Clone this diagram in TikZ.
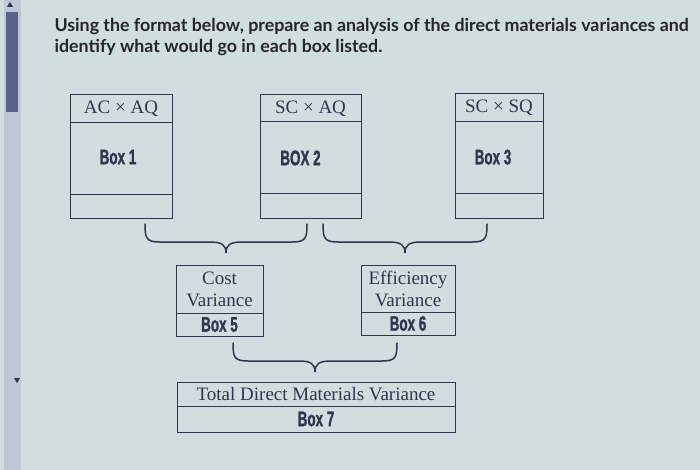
\documentclass[tikz,border=0pt]{standalone}
\usepackage{fontspec}
\usepackage{graphicx}
\setmainfont{Liberation Serif}
\newfontfamily\titlefont{Lato}
\newfontfamily\tagfont{Liberation Sans Bold}[FakeBold=1.6]
\usetikzlibrary{positioning}

\definecolor{screen}{RGB}{208,222,224}
\definecolor{ink}{RGB}{45,55,78}
\definecolor{thumb}{RGB}{88,98,138}
\definecolor{track}{RGB}{188,200,216}

% condensed heavy box label
\newcommand{\boxtag}[1]{\scalebox{0.64}[1]{\tagfont\fontsize{21}{21}\selectfont #1}}

% curly brace: start point, straight length
\newcommand{\curly}[2]{%
  \draw[curlyline] #1 .. controls +(0,14) and +(-14,0) .. ++(15,18) -- ++(#2,0)
    .. controls +(12,0) and +(0,-8) .. ++(16,11)
    .. controls +(0,-8) and +(-12,0) .. ++(16,-11) -- ++(#2,0)
    .. controls +(14,0) and +(0,14) .. ++(15,-18);}

\tikzset{
  cell/.style={draw=ink, line width=1pt, inner sep=0pt, outer sep=0pt, text=ink,
    font=\fontsize{19}{22}\selectfont, align=center},
  curlyline/.style={draw=ink, line width=1.5pt, line cap=round}
}

\begin{document}
\begin{tikzpicture}[x=1pt,y=-1pt]
  \fill[screen] (0,0) rectangle (700,470);
  \useasboundingbox (0,0) rectangle (700,470);

  % scroll bar
  \fill[track] (4,0) rectangle (21,470);
  \fill[thumb] (6,12) rectangle (18,112);
  \fill[ink] (7,7) -- (13,7) -- (10,2) -- cycle;
  \fill[ink] (14,378) -- (20,378) -- (17,383) -- cycle;

  \node[anchor=north west, align=left, text=black!85,
    font=\titlefont\bfseries\fontsize{17.8}{20.5}\selectfont] (title) at (51,15)
    {Using the format below, prepare an analysis of the direct materials variances and\\
     identify what would go in each box listed.};

  % top row
  \node[cell, minimum width=102pt, minimum height=28pt] (hdrA) at (121,109) {AC × AQ};
  \node[cell, minimum width=102pt, minimum height=72pt, below=0pt of hdrA] (bodyA)
    {\raisebox{4pt}{\boxtag{Box 1}}\hspace{6pt}};
  \node[cell, minimum width=102pt, minimum height=23pt, below=0pt of bodyA] (footA) {};

  \node[cell, minimum width=101pt, minimum height=27pt] (hdrB) at (310.5,108.5) {SC × AQ};
  \node[cell, minimum width=101pt, minimum height=72pt, below=0pt of hdrB] (bodyB)
    {\raisebox{-2pt}{\boxtag{BOX 2}}\hspace{20pt}};
  \node[cell, minimum width=101pt, minimum height=24pt, below=0pt of bodyB] (footB) {};

  \node[cell, minimum width=88pt, minimum height=28pt] (hdrC) at (499,108) {SC × SQ};
  \node[cell, minimum width=88pt, minimum height=72pt, below=0pt of hdrC] (bodyC)
    {\raisebox{2pt}{\boxtag{Box 3}}\hspace{12pt}};
  \node[cell, minimum width=88pt, minimum height=24pt, below=0pt of bodyC] (footC) {};

  \curly{(145,224)}{50}
  \curly{(323,224)}{51}

  % variances
  \node[cell, minimum width=87pt, minimum height=48pt] (costHdr) at (219.5,289) {Cost\\Variance};
  \node[cell, minimum width=87pt, minimum height=23pt, below=0pt of costHdr] (costFoot) {\boxtag{Box 5}};

  \node[cell, minimum width=94pt, minimum height=47pt] (effHdr) at (408,288.5) {Efficiency\\Variance};
  \node[cell, minimum width=94pt, minimum height=23pt, below=0pt of effHdr] (effFoot) {\boxtag{Box 6}};

  \curly{(233,343)}{51}

  \node[cell, minimum width=278pt, minimum height=24pt] (totalHdr) at (316,394) {Total Direct Materials Variance};
  \node[cell, minimum width=278pt, minimum height=26pt, below=0pt of totalHdr] (totalFoot) {\boxtag{Box 7}};
\end{tikzpicture}
\end{document}
